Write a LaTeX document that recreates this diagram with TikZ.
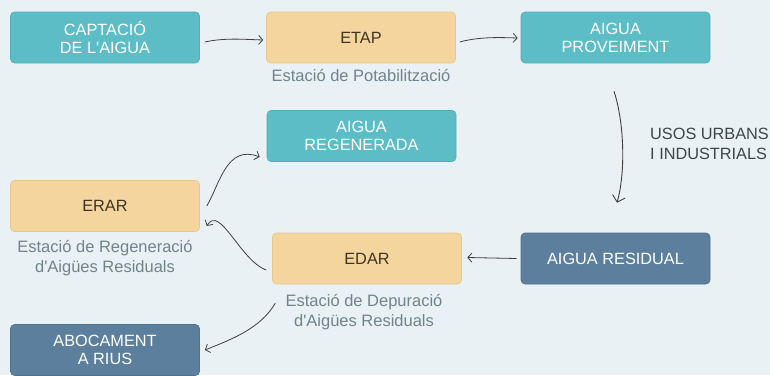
\documentclass[tikz,border=0pt]{standalone}
\usepackage{fontspec}
\setmainfont{Liberation Sans}
\usetikzlibrary{arrows.meta,calc}
\definecolor{bgc}{HTML}{E9F1F4}
\definecolor{tealc}{HTML}{5CBDC7}
\definecolor{tealb}{HTML}{52AEB8}
\definecolor{orc}{HTML}{F4D59D}
\definecolor{orb}{HTML}{E6C68E}
\definecolor{bluec}{HTML}{5B7F9C}
\definecolor{blueb}{HTML}{50738E}
\definecolor{brownt}{HTML}{3F3525}
\definecolor{greyt}{HTML}{71838D}
\definecolor{arrc}{HTML}{404040}
\definecolor{usost}{HTML}{3E4548}
\tikzset{
  boxbase/.style={rectangle, rounded corners=4pt, minimum width=189pt, minimum height=51pt, inner sep=0pt, align=center, font=\fontsize{16.3}{18}\selectfont, line width=0.6pt},
  tealbox/.style={boxbase, fill=tealc, draw=tealb, text=white},
  orbox/.style={boxbase, fill=orc, draw=orb, text=brownt},
  bluebox/.style={boxbase, fill=bluec, draw=blueb, text=white},
  sublabel/.style={align=center, text=greyt, font=\fontsize{16.5}{20}\selectfont, inner sep=0pt},
  flow/.style={draw=arrc, line width=0.8pt, -{Straight Barb[length=4pt,width=9pt]}},
  bigflow/.style={draw=arrc, line width=0.9pt, -{Straight Barb[length=6pt,width=13pt]}}
}
\begin{document}
\begin{tikzpicture}[x=1pt,y=-1pt]
\fill[bgc] (0,0) rectangle (770,375);
\useasboundingbox (0,0) rectangle (770,375);

\node[tealbox] (capt) at (105,37.5) {CAPTACIÓ\\DE L\textquotesingle AIGUA};
\node[orbox] (etap) at (361,37.5) {ETAP};
\node[tealbox] (prov) at (615.5,37.5) {AIGUA\\PROVEIMENT};
\node[tealbox] (regen) at (361.5,136) {AIGUA\\REGENERADA};
\node[orbox] (erar) at (105,206) {ERAR};
\node[orbox] (edar) at (367,258.5) {EDAR};
\node[bluebox] (resid) at (615.5,258.5) {AIGUA RESIDUAL};
\node[bluebox] (aboc) at (105,350) {ABOCAMENT\\A RIUS};

\node[sublabel, anchor=north] (etaplab) at (361,69) {Estació de Potabilització};
\node[sublabel, anchor=north] (erarlab) at (105,240) {Estació de Regeneració\\d\textquotesingle Aigües Residuals};
\node[sublabel, anchor=north] (edarlab) at (364,294) {Estació de Depuració\\d\textquotesingle Aigües Residuals};
\node[align=left, anchor=west, inner sep=0pt, text=usost, font=\fontsize{16.3}{20}\selectfont] (usos) at (650,144) {USOS URBANS\\I INDUSTRIALS};

% connectors
\draw[flow] ($(capt.east)+(5,4.5)$) .. controls ($(capt.east)+(25,0)$) and ($(etap.west)+(-20,2)$) .. ($(etap.west)+(-3,2.5)$);
\draw[flow] ($(etap.east)+(4,4.5)$) .. controls ($(etap.east)+(24,-1)$) and ($(prov.west)+(-20,0)$) .. ($(prov.west)+(-3,0.5)$);
\draw[bigflow] ($(prov.south)+(-1.5,28)$) .. controls ($(prov.south)+(9,60)$) and ($(resid.north)+(10,-60)$) .. ($(resid.north)+(1.5,-30)$);
\draw[flow] ($(resid.west)+(-4,0)$) -- ($(edar.east)+(5.5,-1)$);
\draw[flow] ($(edar.west)+(-6,11.5)$) .. controls ($(edar.west)+(-32,2)$) and ($(erar.east)+(20,-2)$) .. ($(erar.east)+(7,20)$);
\draw[flow] ($(erar.east)+(7,0)$) .. controls ($(erar.east)+(20,-22)$) and ($(regen.west)+(-40,8)$) .. ($(regen.west)+(-7,21)$);
\draw[flow] ($(edarlab.north west)+(-10,9)$) .. controls ($(edarlab.north west)+(-25,35)$) and ($(aboc.east)+(30,-10)$) .. ($(aboc.east)+(5,0)$);
\end{tikzpicture}
\end{document}
